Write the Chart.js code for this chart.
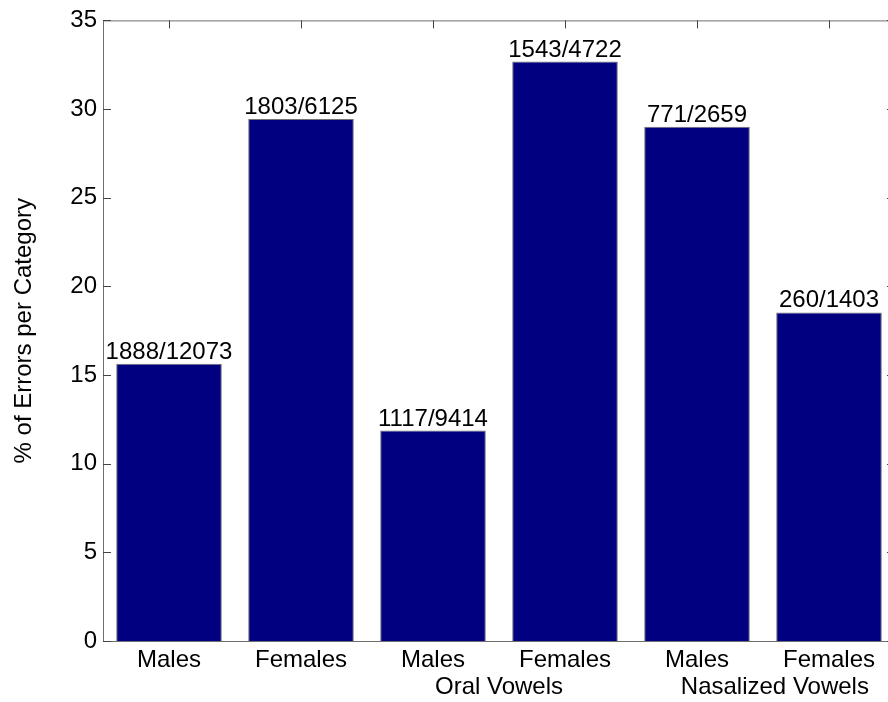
<!DOCTYPE html>
<html>
<head>
<meta charset="utf-8">
<script src="https://cdn.jsdelivr.net/npm/chart.js@4.4.0/dist/chart.umd.min.js"></script>
<style>
  html, body { margin: 0; padding: 0; background: #fff; overflow: hidden; }
</style>
</head>
<body>
<canvas id="myChart" width="900" height="702"></canvas>
<script>
'use strict';
// data
const categories = ['Males', 'Females', 'Males', 'Females', 'Males', 'Females'];
const errorCounts = [1888, 1803, 1117, 1543, 771, 260];
const tokenCounts = [12073, 6125, 9414, 4722, 2659, 1403];
const groupLabels = ['Oral Vowels', 'Nasalized Vowels'];
const yTicks = [0, 5, 10, 15, 20, 25, 30, 35];

// % of errors per category
const errorRates = errorCounts.map((n, i) => 100 * n / tokenCounts[i]);

const fontFamily = 'Arial, "Liberation Sans", Helvetica, sans-serif';
Chart.defaults.font.family = fontFamily;
Chart.defaults.color = '#000';

// box round the plot with inward ticks
const axesBox = {
    id: 'axesBox',
    beforeDatasetsDraw(chart) {
        const { ctx, chartArea: { left, right, top, bottom }, scales: { x, y } } = chart;
        ctx.save();
        ctx.strokeStyle = '#6e6e6e';
        ctx.lineWidth = 1;
        ctx.strokeRect(left + 0.5, top + 0.5, right - left - 1, bottom - top);
        ctx.strokeStyle = '#444';
        ctx.beginPath();
        yTicks.forEach(v => {
            const py = Math.round(y.getPixelForValue(v)) + 0.5;
            ctx.moveTo(left, py); ctx.lineTo(left + 8, py);
            ctx.moveTo(right, py); ctx.lineTo(right - 8, py);
        });
        categories.forEach((c, i) => {
            const px = Math.round(x.getPixelForValue(i)) + 0.5;
            ctx.moveTo(px, top); ctx.lineTo(px, top + 8);
            ctx.moveTo(px, bottom); ctx.lineTo(px, bottom - 8);
        });
        ctx.stroke();
        ctx.restore();
    }
};

// counts over each bar, group names under the ticks
const barText = {
    id: 'barText',
    afterDraw(chart) {
        const { ctx, scales: { x } } = chart;
        ctx.save();
        ctx.fillStyle = '#000';
        ctx.font = '24px ' + fontFamily;
        ctx.textAlign = 'center';
        ctx.textBaseline = 'alphabetic';
        chart.getDatasetMeta(0).data.forEach((bar, i) => {
            ctx.fillText(errorCounts[i] + '/' + tokenCounts[i], bar.x, bar.y - 5);
        });
        ctx.textBaseline = 'middle';
        ctx.fillText(groupLabels[0], x.getPixelForValue(2.5), x.top + 46);
        ctx.fillText(groupLabels[1], x.getPixelForValue(4.59), x.top + 46);
        ctx.restore();
    }
};

const ctx = document.getElementById('myChart');
const myChart = new Chart(ctx.getContext('2d'), {
    type: 'bar',
    data: {
        labels: categories,
        datasets: [{
            label: '',
            data: errorRates,
            backgroundColor: '#000080',
            borderColor: '#737373',
            borderWidth: 1,
            barPercentage: 0.8,
            categoryPercentage: 1.0
        }]
    },
    options: {
        responsive: false,
        animation: false,
        layout: { padding: { top: 18, right: 5, left: 0, bottom: 0 } },
        plugins: {
            legend: { display: false },
            tooltip: { enabled: false }
        },
        scales: {
            x: {
                grid: { display: false, drawTicks: false },
                border: { display: false },
                ticks: { font: { size: 24 }, padding: 5, maxRotation: 0 },
                afterFit(scale) { scale.height = 61; }
            },
            y: {
                min: 0,
                max: 35,
                grid: { display: false, drawTicks: false },
                border: { display: false },
                ticks: { font: { size: 24 }, padding: 6 },
                afterBuildTicks(scale) { scale.ticks = yTicks.map(v => ({ value: v })); },
                title: {
                    display: true,
                    text: '% of Errors per Category',
                    font: { size: 24, lineHeight: 1.2 },
                    padding: { top: 10, bottom: 0 }
                },
                afterFit(scale) { scale.width = 103; }
            }
        }
    },
    plugins: [axesBox, barText]
});
</script>
</body>
</html>
